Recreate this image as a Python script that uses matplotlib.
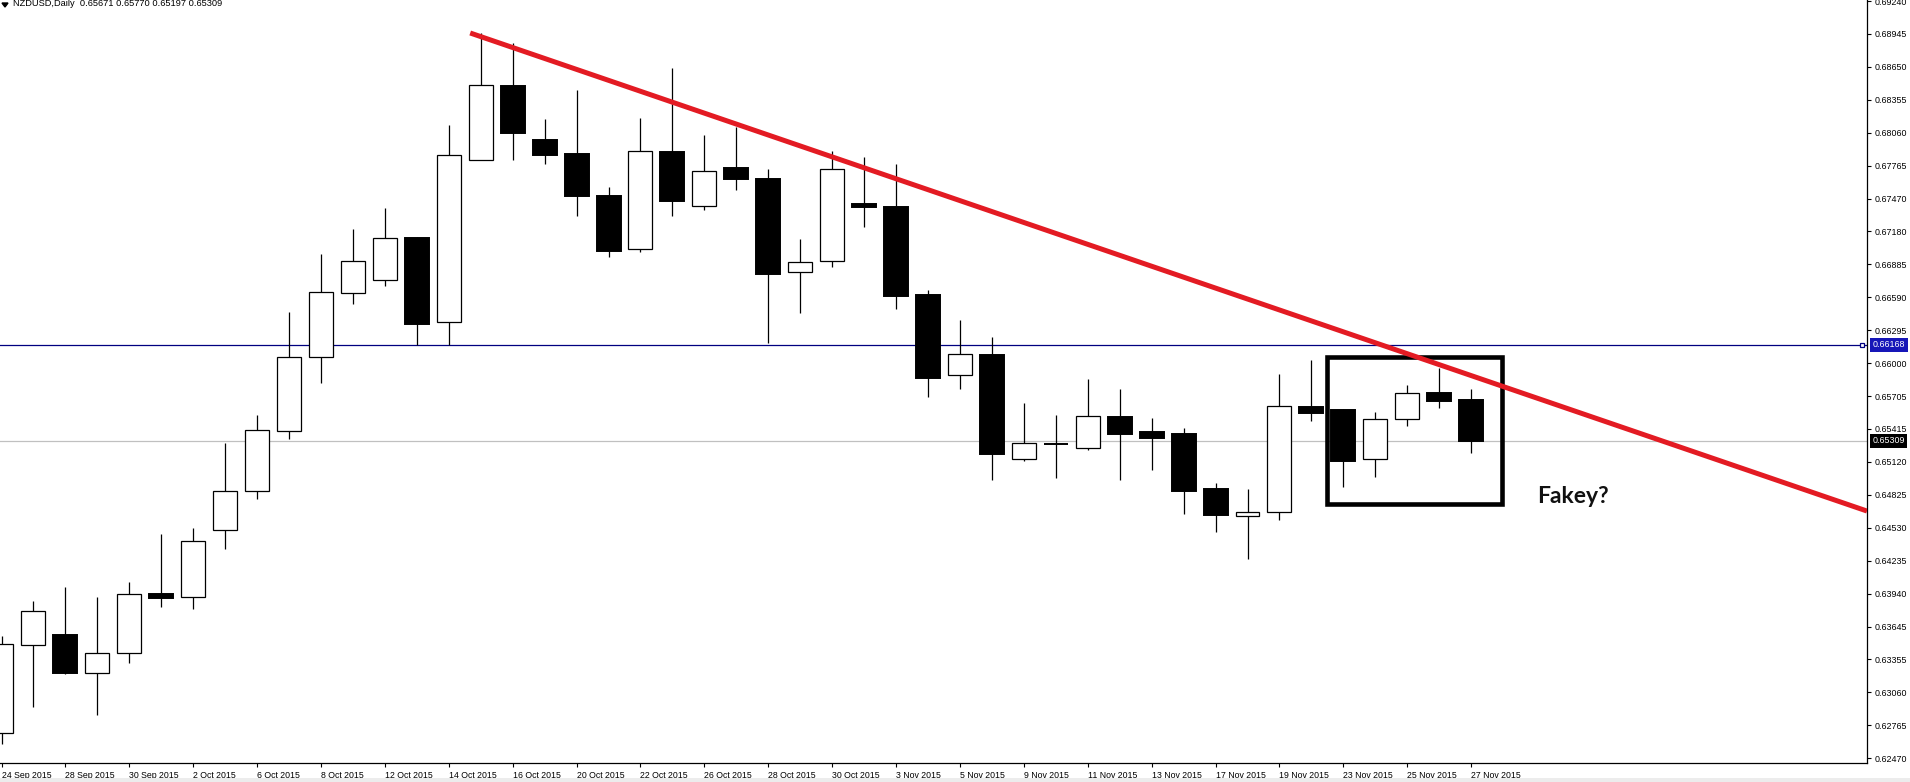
import matplotlib
matplotlib.use("Agg")
import matplotlib.pyplot as plt
from matplotlib.patches import Rectangle, Polygon
from matplotlib.transforms import blended_transform_factory

# ---------------- data ----------------
dates = ["24 Sep 2015", "25 Sep 2015", "28 Sep 2015", "29 Sep 2015", "30 Sep 2015",
         "1 Oct 2015", "2 Oct 2015", "5 Oct 2015", "6 Oct 2015", "7 Oct 2015",
         "8 Oct 2015", "9 Oct 2015", "12 Oct 2015", "13 Oct 2015", "14 Oct 2015",
         "15 Oct 2015", "16 Oct 2015", "19 Oct 2015", "20 Oct 2015", "21 Oct 2015",
         "22 Oct 2015", "23 Oct 2015", "26 Oct 2015", "27 Oct 2015", "28 Oct 2015",
         "29 Oct 2015", "30 Oct 2015", "2 Nov 2015", "3 Nov 2015", "4 Nov 2015",
         "5 Nov 2015", "6 Nov 2015", "9 Nov 2015", "10 Nov 2015", "11 Nov 2015",
         "12 Nov 2015", "13 Nov 2015", "16 Nov 2015", "17 Nov 2015", "18 Nov 2015",
         "19 Nov 2015", "20 Nov 2015", "23 Nov 2015", "24 Nov 2015", "25 Nov 2015",
         "26 Nov 2015", "27 Nov 2015"]

opens = [0.62694, 0.63478, 0.63570, 0.63233, 0.63407, 0.63934, 0.63908, 0.64507,
         0.64860, 0.65392, 0.66054, 0.66626, 0.66742, 0.67118, 0.66367, 0.67815,
         0.68480, 0.67997, 0.67872, 0.67496, 0.67020, 0.67887, 0.67404, 0.67747,
         0.67648, 0.66814, 0.66912, 0.67425, 0.67398, 0.66611, 0.65893, 0.66074,
         0.65142, 0.65280, 0.65240, 0.65517, 0.65383, 0.65368, 0.64876, 0.64637,
         0.64673, 0.65609, 0.65582, 0.65142, 0.65499, 0.65732, 0.65671]
highs = [0.63560, 0.63874, 0.63997, 0.63910, 0.64044, 0.64474, 0.64524, 0.65290,
         0.65535, 0.66456, 0.66975, 0.67198, 0.67386, 0.67132, 0.68129, 0.68951,
         0.68862, 0.68185, 0.68444, 0.67577, 0.68194, 0.68638, 0.68039, 0.68111,
         0.67738, 0.67112, 0.67899, 0.67845, 0.67782, 0.66656, 0.66387, 0.66235,
         0.65645, 0.65538, 0.65860, 0.65770, 0.65511, 0.65421, 0.64930, 0.64876,
         0.65904, 0.66030, 0.65589, 0.65565, 0.65806, 0.65955, 0.65770]
lows = [0.62600, 0.62929, 0.63219, 0.62858, 0.63323, 0.63823, 0.63800, 0.64342,
        0.64790, 0.65320, 0.65827, 0.66533, 0.66694, 0.66164, 0.66164, 0.67815,
        0.67821, 0.67785, 0.67320, 0.66953, 0.66993, 0.67320, 0.67374, 0.67550,
        0.66184, 0.66453, 0.66864, 0.67222, 0.66488, 0.65701, 0.65773, 0.64959,
        0.65129, 0.64977, 0.65227, 0.64959, 0.65049, 0.64655, 0.64494, 0.64253,
        0.64601, 0.65487, 0.64897, 0.64981, 0.65442, 0.65603, 0.65197]
closes = [0.63490, 0.63782, 0.63233, 0.63407, 0.63934, 0.63904, 0.64408, 0.64860,
          0.65401, 0.66054, 0.66635, 0.66912, 0.67118, 0.66354, 0.67860, 0.68486,
          0.68062, 0.67866, 0.67499, 0.67007, 0.67896, 0.67454, 0.67717, 0.67651,
          0.66801, 0.66903, 0.67735, 0.67401, 0.66605, 0.65871, 0.66081, 0.65192,
          0.65285, 0.65276, 0.65526, 0.65371, 0.65335, 0.64861, 0.64646, 0.64668,
          0.65616, 0.65558, 0.65129, 0.65499, 0.65732, 0.65666, 0.65309]

price_ticks = [0.69240, 0.68945, 0.68650, 0.68355, 0.68060, 0.67765, 0.67470, 0.67180,
               0.66885, 0.66590, 0.66295, 0.66000, 0.65705, 0.65415, 0.65120, 0.64825,
               0.64530, 0.64235, 0.63940, 0.63645, 0.63355, 0.63060, 0.62765, 0.62470]

level_line = 0.66168          # horizontal (blue) line
last_close = 0.65309          # current price line
trend_x = [14.67, 58.39]      # red trendline (bar index)
trend_y = [0.68954, 0.64679]
box_x = [41.5, 46.97]         # highlight box
box_y = [0.64745, 0.66054]
header = "NZDUSD,Daily  0.65671 0.65770 0.65197 0.65309"
note = "Fakey?"
note_pos = (48.08, 0.64813)

# ---------------- figure ----------------
W, H = 1910, 782
fig = plt.figure(figsize=(W / 100, H / 100), dpi=100)
fig.patch.set_facecolor("white")
ax = fig.add_axes([0, 19 / H, 1867 / W, 763 / H])
ax.set_facecolor("white")
ax.set_xlim(-0.047, 58.39)
ax.set_ylim(0.62426, 0.69249)

AXF = "Liberation Sans"

# horizontal lines
ax.axhline(last_close, color="#c0c0c0", lw=0.9, zorder=1)
ax.axhline(level_line, color="#000080", lw=0.9, zorder=1)
ax.plot([58.22], [level_line], marker="s", ms=3.2, mfc="white", mec="#000080",
        mew=0.9, zorder=6, clip_on=False)

# candles
bw = 0.75
for i, (o, h, l, c) in enumerate(zip(opens, highs, lows, closes)):
    ax.plot([i, i], [l, h], color="black", lw=0.9, zorder=2, solid_capstyle="butt")
    bull = c >= o
    lo, hi = min(o, c), max(o, c)
    rect = Rectangle((i - bw / 2, lo), bw, hi - lo,
                     facecolor="white" if bull else "black",
                     edgecolor="black", lw=0.9 if bull else 1.4, zorder=3)
    ax.add_patch(rect)

# trendline
ax.plot(trend_x, trend_y, color="#E31B23", lw=3.6, solid_capstyle="butt", zorder=5)

# box
ax.add_patch(Rectangle((box_x[0], box_y[0]), box_x[1] - box_x[0], box_y[1] - box_y[0],
                       fill=False, edgecolor="black", lw=3.3, zorder=4, joinstyle="miter"))

# annotation
ax.text(note_pos[0], note_pos[1], note, fontsize=16.5, fontweight="bold",
        family="Lato", color="#111111", ha="left", va="center", zorder=6)

# axes styling
for s in ["top", "left"]:
    ax.spines[s].set_visible(False)
for s in ["right", "bottom"]:
    ax.spines[s].set_color("black")
    ax.spines[s].set_linewidth(0.9)

ax.yaxis.tick_right()
ax.set_yticks(price_ticks)
ax.set_yticklabels([f"{v:.5f}" for v in price_ticks], family=AXF, fontsize=6.4)
ax.tick_params(axis="y", direction="out", length=3, width=0.8, pad=2.5, colors="black")

ax.set_xticks(range(0, len(dates), 2))
ax.set_xticklabels(dates[::2], family=AXF, fontsize=6.3)
for lbl in ax.get_xticklabels():
    lbl.set_ha("left")
ax.tick_params(axis="x", direction="out", length=3, width=0.8, pad=2.5, colors="black")

# price boxes on the axis
tr = blended_transform_factory(ax.transAxes, ax.transData)
ax.annotate(f"{level_line:.5f}", xy=(1.0, level_line), xycoords=tr,
            xytext=(4.0, 0), textcoords="offset points", ha="left", va="center",
            family=AXF, fontsize=6.4, color="white", zorder=10, annotation_clip=False,
            bbox=dict(boxstyle="square,pad=0.28", fc="#1616B8", ec="none"))
ax.annotate(f"{last_close:.5f}", xy=(1.0, last_close), xycoords=tr,
            xytext=(4.0, 0), textcoords="offset points", ha="left", va="center",
            family=AXF, fontsize=6.4, color="white", zorder=10, annotation_clip=False,
            bbox=dict(boxstyle="square,pad=0.28", fc="black", ec="none"))

# header (triangle + symbol info)
tri = Polygon([[2 / W, 1 - 3 / H], [8 / W, 1 - 3 / H], [5 / W, 1 - 7 / H]],
              closed=True, transform=fig.transFigure, color="black")
fig.patches.append(tri)
fig.text(13 / W, 1 - 4 / H, header, family=AXF, fontsize=6.7, color="black",
         ha="left", va="center")

# bottom window frame strip
fig.patches.append(Rectangle((0, 0), 1, 4 / H, transform=fig.transFigure,
                             facecolor="#ececec", edgecolor="none"))

fig.savefig("out.png", dpi=100)
